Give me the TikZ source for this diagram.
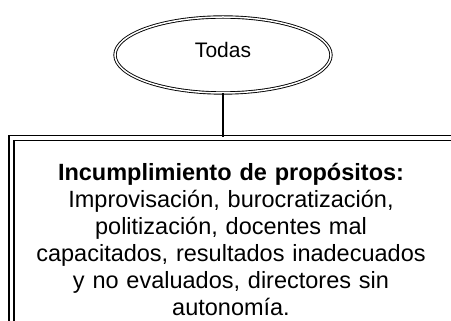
\documentclass[tikz,border=0pt]{standalone}
\usepackage{fontspec}
\setmainfont{Liberation Sans}
\usetikzlibrary{shapes.geometric,positioning}

\begin{document}
\begin{tikzpicture}[x=1pt, y=1pt,
      inicio/.style = {shape=ellipse, draw, double, double distance=1.5pt,
        line width=0.9pt, minimum width=216pt, minimum height=76pt,
        inner sep=0pt, font=\fontsize{21}{25}\selectfont, text depth=10pt},
      marco/.style = {shape=rectangle, draw, double, double distance=3.5pt,
        line width=1.4pt, minimum width=480pt, minimum height=240pt},
      texto/.style = {align=center, text width=410pt, inner sep=0pt,
        font=\fontsize{23.5}{27}\selectfont}]
  \useasboundingbox (0,0) rectangle (451,321);
  \node[inicio] (todas) at (223,266) {Todas};
  \node[marco, anchor=north west] (caja) at (10.8,183.5) {};
  \node[texto, anchor=base] (causas) at (231,140)
    {\textbf{Incumplimiento de propósitos:}\\ Improvisación, burocratización,\\
     politización, docentes mal\\ capacitados, resultados inadecuados\\
     y no evaluados, directores sin\\ autonomía.};
  \draw[line width=1.2pt] (todas.south) -- (todas.south |- caja.north);
\end{tikzpicture}
\end{document}
